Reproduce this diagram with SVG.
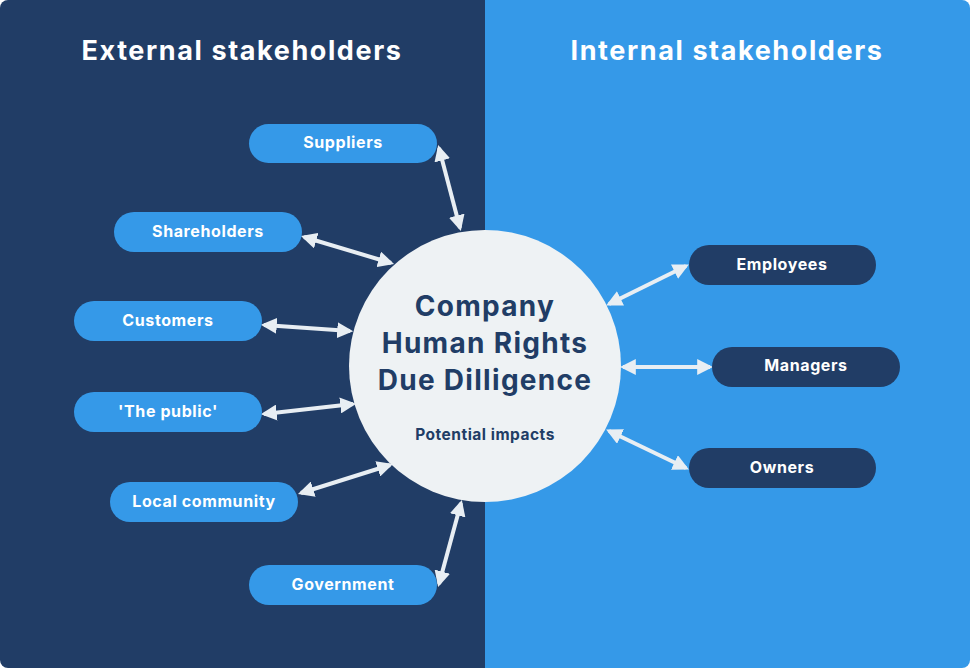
<svg xmlns="http://www.w3.org/2000/svg" width="970" height="668" viewBox="0 0 970 668">
<defs>
<style>
.pl{fill:#3599e8}.pd{fill:#213d66}
.t{font-family:Inter,"Liberation Sans",sans-serif;font-weight:700;font-size:16px;letter-spacing:0.6px;fill:#fff;text-anchor:middle}
.h{font-family:Inter,"Liberation Sans",sans-serif;font-weight:700;font-size:27px;letter-spacing:1.6px;fill:#fff;text-anchor:middle}
.c{font-family:Inter,"Liberation Sans",sans-serif;font-weight:700;font-size:28px;letter-spacing:1.3px;fill:#213d66;text-anchor:middle}
.a{stroke:#e8eef3;stroke-width:4;fill:none;marker-start:url(#m);marker-end:url(#m)}
</style>
<marker id="m" viewBox="0 0 10 10" refX="8" refY="5" markerWidth="4" markerHeight="4" orient="auto-start-reverse"><path d="M0,0L10,5L0,10z" fill="#e8eef3"/></marker>
<clipPath id="cp"><rect width="970" height="668" rx="8"/></clipPath>
</defs>
<g clip-path="url(#cp)">
<rect x="0" y="0" width="485" height="668" fill="#213d66"/>
<rect x="485" y="0" width="485" height="668" fill="#3599e8"/>
</g>
<text class="h" x="242" y="60">External stakeholders</text>
<text class="h" x="727" y="60">Internal stakeholders</text>
<g id="connectors">
<line class="a" x1="439" y1="148" x2="460" y2="228"/>
<line class="a" x1="304" y1="237" x2="391" y2="263"/>
<line class="a" x1="264" y1="325" x2="350" y2="331"/>
<line class="a" x1="264" y1="414" x2="353" y2="404"/>
<line class="a" x1="301" y1="493" x2="390" y2="465"/>
<line class="a" x1="439" y1="584" x2="461" y2="503"/>
<line class="a" x1="686" y1="266" x2="609" y2="304"/>
<line class="a" x1="710" y1="367" x2="623" y2="367"/>
<line class="a" x1="686" y1="468" x2="609" y2="431"/>
</g>
<g id="center"><circle cx="485" cy="366" r="136" fill="#eef2f4"/>
<text class="c" x="485" y="316">Company</text>
<text class="c" x="485" y="353">Human Rights</text>
<text class="c" x="485" y="390">Due Dilligence</text>
<text class="c" x="485" y="440" style="font-size:15.5px;letter-spacing:0.5px">Potential impacts</text></g>
<g id="suppliers"><rect class="pl" x="249" y="124" width="188" height="39" rx="19.5"/><text class="t" x="343" y="148">Suppliers</text></g>
<g id="shareholders"><rect class="pl" x="114" y="212" width="188" height="40" rx="20"/><text class="t" x="208" y="237">Shareholders</text></g>
<g id="customers"><rect class="pl" x="74" y="301" width="188" height="40" rx="20"/><text class="t" x="168" y="326">Customers</text></g>
<g id="public"><rect class="pl" x="74" y="392" width="188" height="40" rx="20"/><text class="t" x="168" y="417">'The public'</text></g>
<g id="local"><rect class="pl" x="110" y="482" width="188" height="40" rx="20"/><text class="t" x="204" y="507">Local community</text></g>
<g id="government"><rect class="pl" x="249" y="565" width="188" height="40" rx="20"/><text class="t" x="343" y="590">Government</text></g>
<g id="employees"><rect class="pd" x="689" y="245" width="187" height="40" rx="20"/><text class="t" x="782" y="270">Employees</text></g>
<g id="managers"><rect class="pd" x="712" y="347" width="188" height="40" rx="20"/><text class="t" x="806" y="371">Managers</text></g>
<g id="owners"><rect class="pd" x="689" y="448" width="187" height="40" rx="20"/><text class="t" x="782" y="473">Owners</text></g>
</svg>
